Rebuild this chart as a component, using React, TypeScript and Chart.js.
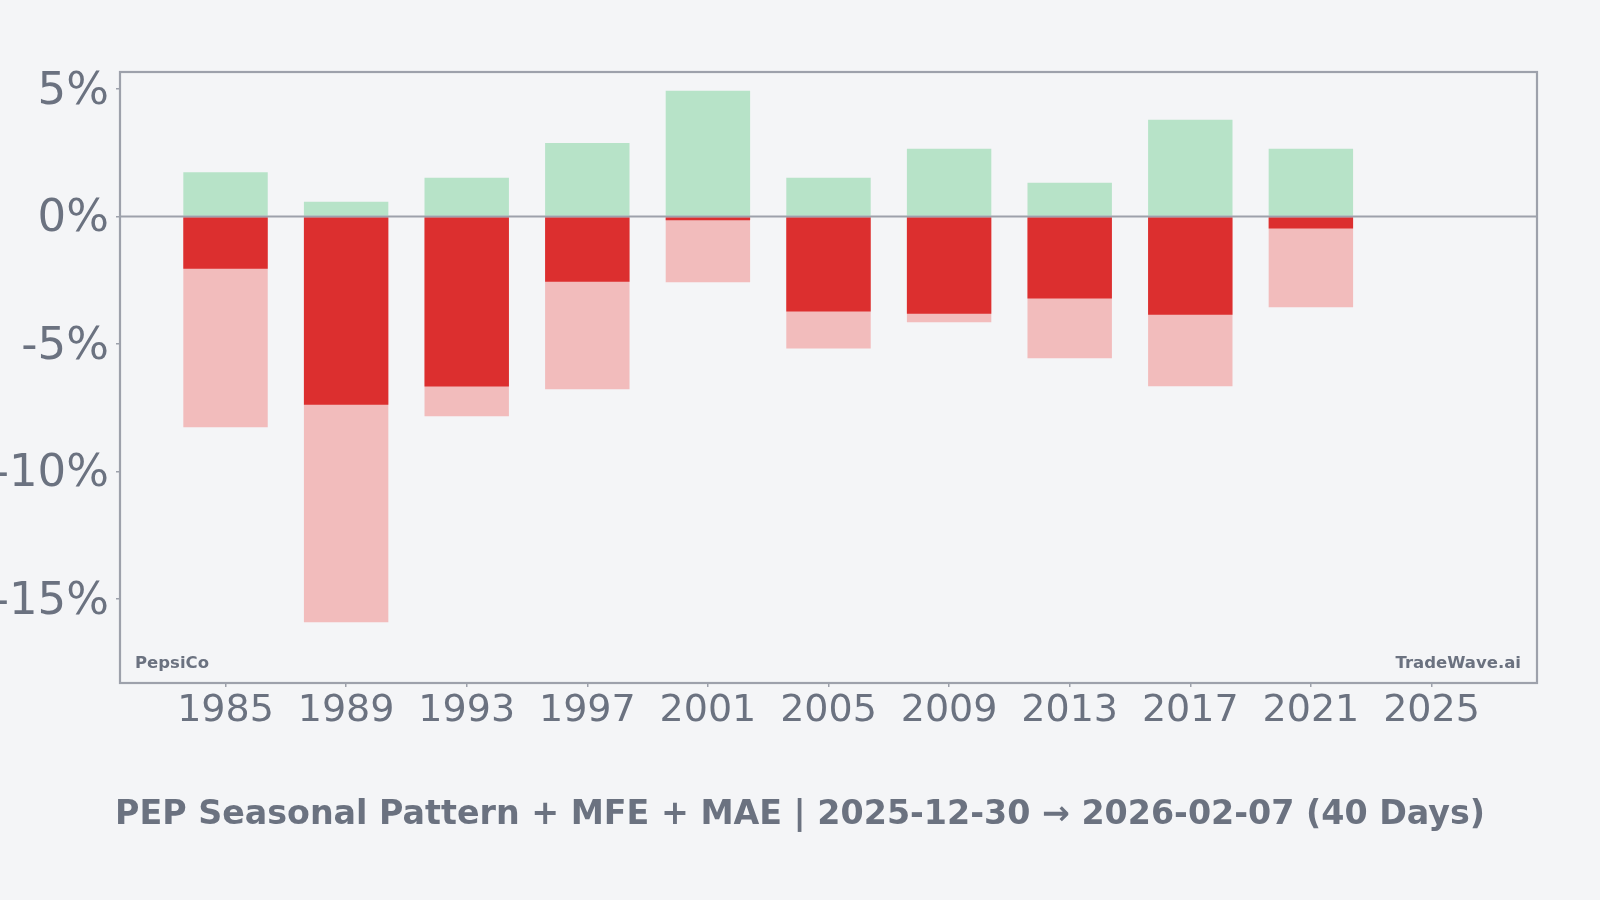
import { useEffect, useRef } from 'react'
import { Chart, registerables } from 'chart.js'

Chart.register(...registerables)

// seasonal window results per year (%)
const YEARS = [1985, 1989, 1993, 1997, 2001, 2005, 2009, 2013, 2017, 2021]
const MFE = [1.74, 0.58, 1.52, 2.88, 4.93, 1.52, 2.66, 1.33, 3.8, 2.66]
const MAE = [-8.27, -15.92, -7.84, -6.78, -2.58, -5.18, -4.15, -5.56, -6.66, -3.56]
const RETURNS = [-2.05, -7.38, -6.67, -2.56, -0.15, -3.73, -3.81, -3.22, -3.85, -0.47]

const X_TICKS = [1985, 1989, 1993, 1997, 2001, 2005, 2009, 2013, 2017, 2021, 2025]
const Y_TICKS = [-15, -10, -5, 0, 5]

const TITLE = 'PEP Seasonal Pattern + MFE + MAE | 2025-12-30 → 2026-02-07 (40 Days)'
const LEFT_MARK = 'PepsiCo'
const RIGHT_MARK = 'TradeWave.ai'

const BG = '#f4f5f7'
const AXIS = '#9da1ab'
const TEXT = '#6b7280'
const FONT = '"DejaVu Sans", sans-serif'

const framePlugin = {
  id: 'frame',
  afterDatasetsDraw(chart: any) {
    const { ctx, chartArea: a, scales } = chart
    const y0 = scales.y.getPixelForValue(0)
    ctx.save()
    ctx.strokeStyle = AXIS
    ctx.lineWidth = 2
    ctx.beginPath()
    ctx.moveTo(a.left, y0)
    ctx.lineTo(a.right, y0)
    ctx.stroke()
    ctx.lineWidth = 2.2
    ctx.strokeRect(a.left, a.top, a.right - a.left, a.bottom - a.top)

    ctx.fillStyle = TEXT
    ctx.textBaseline = 'alphabetic'
    ctx.font = `bold 16.5px ${FONT}`
    ctx.textAlign = 'left'
    ctx.fillText(LEFT_MARK, a.left + 15, a.bottom - 15)
    ctx.textAlign = 'right'
    ctx.fillText(RIGHT_MARK, a.right - 16, a.bottom - 15)

    ctx.font = `bold 33.3px ${FONT}`
    ctx.textAlign = 'center'
    ctx.fillText(TITLE, chart.width / 2, 824)
    ctx.restore()
  },
}

export default function App() {
  const chartRef = useRef<HTMLCanvasElement>(null)
  const chartInstance = useRef<Chart | null>(null)

  useEffect(() => {
    document.body.style.margin = '0'
    document.body.style.background = BG
    if (!chartRef.current) return
    const ctx = chartRef.current.getContext('2d')
    if (!ctx) return
    if (chartInstance.current) chartInstance.current.destroy()

    const pts = (vals: number[]) => YEARS.map((x, i) => ({ x, y: vals[i] }))

    chartInstance.current = new Chart(ctx, {
      type: 'bar',
      data: {
        datasets: [
          {
            label: 'Return',
            data: pts(RETURNS),
            backgroundColor: RETURNS.map((v) => (v >= 0 ? '#2e9d55' : '#dc2f2f')),
          },
          {
            label: 'MAE',
            data: pts(MAE),
            backgroundColor: '#f2bcbc',
          },
          {
            label: 'MFE',
            data: pts(MFE),
            backgroundColor: '#b7e3c8',
          },
        ],
      },
      options: {
        animation: false,
        responsive: true,
        maintainAspectRatio: false,
        grouped: false,
        barPercentage: 0.7,
        categoryPercentage: 1,
        layout: { padding: { top: 72, right: 63, left: 0, bottom: 0 } },
        plugins: {
          legend: { display: false },
          tooltip: { enabled: false },
        },
        scales: {
          x: {
            type: 'linear',
            min: 1981.5,
            max: 2028.5,
            offset: false,
            grid: { offset: false, drawOnChartArea: false, drawTicks: true, tickLength: 4, color: AXIS, lineWidth: 1.5 },
            border: { display: false },
            afterBuildTicks: (scale: any) => {
              scale.ticks = X_TICKS.map((value) => ({ value }))
            },
            afterFit: (scale: any) => {
              scale.height = 217
              scale.paddingLeft = 0
              scale.paddingRight = 0
            },
            ticks: {
              autoSkip: false,
              maxRotation: 0,
              padding: 1,
              color: TEXT,
              font: { family: FONT, size: 38 },
              callback: (v: any) => String(v),
            },
          },
          y: {
            min: -18.3,
            max: 5.67,
            grid: { drawOnChartArea: false, drawTicks: true, tickLength: 4, color: AXIS, lineWidth: 1.5 },
            border: { display: false },
            afterBuildTicks: (scale: any) => {
              scale.ticks = Y_TICKS.map((value) => ({ value }))
            },
            afterFit: (scale: any) => {
              scale.width = 120
              scale.paddingTop = 0
              scale.paddingBottom = 0
            },
            ticks: {
              padding: 7,
              labelOffset: 3,
              color: TEXT,
              font: { family: FONT, size: 45 },
              callback: (v: any) => `${v}%`,
            },
          },
        },
      } as any,
      plugins: [framePlugin],
    })

    return () => {
      if (chartInstance.current) {
        chartInstance.current.destroy()
        chartInstance.current = null
      }
    }
  }, [])

  return (
    <div style={{ width: 1600, height: 900, background: BG, position: 'relative' }}>
      <canvas ref={chartRef}></canvas>
    </div>
  )
}
